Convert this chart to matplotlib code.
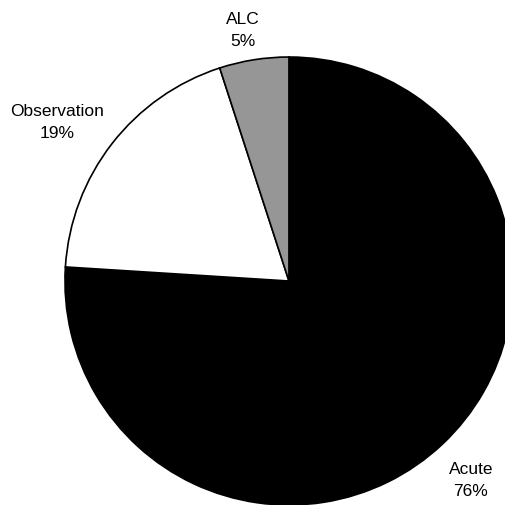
import numpy as np
import matplotlib
matplotlib.use('Agg')
import matplotlib.pyplot as plt

plt.rcParams['font.family'] = ['Liberation Sans', 'DejaVu Sans']

# Share of patients by care setting
labels = ['Acute', 'Observation', 'ALC']
shares = [76, 19, 5]
colors = ['#000000', '#ffffff', '#969696']

# label placement: distance from centre and angular nudge (deg)
label_r = [1.202, 1.256, 1.142]
label_nudge = [-0.7, 3.2, 1.3]

fig = plt.figure(figsize=(5.06, 5.06), dpi=100)
ax = fig.add_axes([0, 0, 1, 1])

wedges, _ = ax.pie(shares, colors=colors, startangle=90, counterclock=False,
                   radius=1.0, center=(0, 0),
                   wedgeprops=dict(edgecolor='black', linewidth=1.2))

for w, name, val, r, dn in zip(wedges, labels, shares, label_r, label_nudge):
    mid = np.deg2rad((w.theta1 + w.theta2) / 2 + dn)
    ax.text(r * np.cos(mid), r * np.sin(mid), f'{name}\n{val}%',
            ha='center', va='center', fontsize=12.5, linespacing=1.55)

ax.set_xlim(-1.29, 0.969)
ax.set_ylim(-1.0, 1.259)
ax.set_aspect('equal')
ax.axis('off')

fig.savefig('out.png', dpi=100)
